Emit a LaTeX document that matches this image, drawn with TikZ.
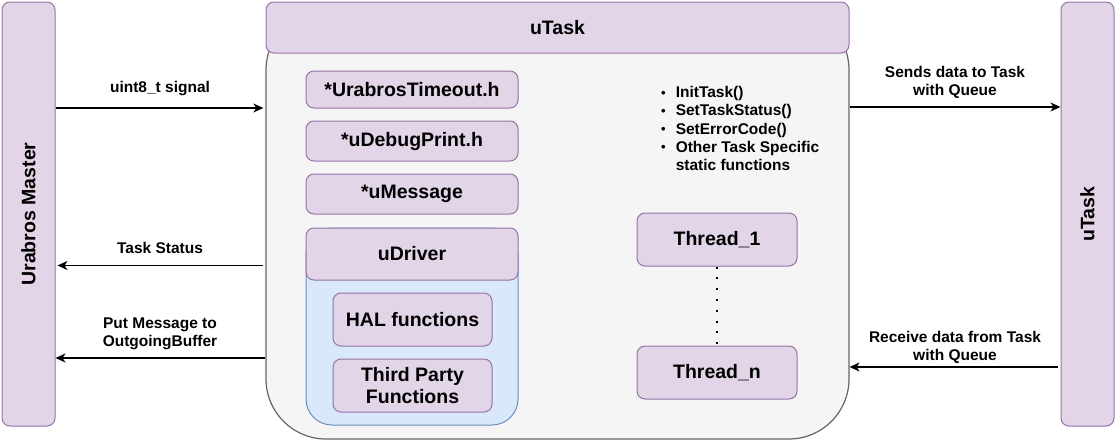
\documentclass[tikz,border=0pt]{standalone}
\usepackage{fontspec}
\setmainfont{Liberation Sans}
\usetikzlibrary{arrows.meta}
\definecolor{pfill}{HTML}{E1D5E7}
\definecolor{pdraw}{HTML}{9673A6}
\definecolor{gfill}{HTML}{F5F5F5}
\definecolor{gdraw}{HTML}{666666}
\definecolor{bfill}{HTML}{DAE8FC}
\definecolor{bdraw}{HTML}{6C8EBF}
\begin{document}
\begin{tikzpicture}[x=1pt,y=-1pt,
  pbox/.style={draw=pdraw, fill=pfill, line width=1pt, rounded corners=8pt, inner sep=0pt,
    font=\fontsize{19.5}{22}\selectfont\bfseries, align=center},
  lbl/.style={font=\fontsize{15.5}{18}\selectfont\bfseries, align=center, inner sep=0pt},
  arr/.style={-{Stealth[length=10pt,width=9pt,inset=3pt]}, line width=1.2pt, black}]
\useasboundingbox (0,0) rectangle (1120,445);

% side bars
\node[pbox, minimum width=53pt, minimum height=424pt] (master) at (28.5,214) {};
\node[font=\fontsize{19.5}{22}\selectfont\bfseries, rotate=90] (masterlbl) at (master.center) {Urabros Master};
\node[pbox, minimum width=53pt, minimum height=424pt] (rtask) at (1087.5,214) {};
\node[font=\fontsize{19.5}{22}\selectfont\bfseries, rotate=90] (rtasklbl) at (rtask.center) {uTask};

% main body
\node[draw=gdraw, fill=gfill, line width=1.2pt, rounded corners=60pt, minimum width=583pt, minimum height=429pt] (body) at (557.5,224.5) {};
\node[pbox, minimum width=583pt, minimum height=51pt] (header) at (557.5,27.5) {uTask};

% left column
\node[pbox, minimum width=212pt, minimum height=37pt] (ut) at (412,89.5) {*UrabrosTimeout.h};
\node[pbox, minimum width=212pt, minimum height=40pt] (dp) at (412,141) {*uDebugPrint.h};
\node[pbox, minimum width=212pt, minimum height=40pt] (um) at (412,194) {*uMessage};
\node[draw=bdraw, fill=bfill, line width=1pt, rounded corners=26pt, minimum width=212pt, minimum height=197pt] (drv) at (412,326.5) {};
\node[pbox, minimum width=212pt, minimum height=52pt] (drvh) at (412,254) {uDriver};
\node[pbox, minimum width=159pt, minimum height=53pt] (hal) at (412.5,319.5) {HAL functions};
\node[pbox, minimum width=159pt, minimum height=53pt, font=\fontsize{19.5}{21.5}\selectfont\bfseries] (tp) at (412.5,385.5) {Third Party\\Functions};

% threads
\node[pbox, minimum width=160pt, minimum height=53pt] (t1) at (717,239.5) {Thread\_1};
\node[pbox, minimum width=160pt, minimum height=53pt] (tn) at (717,372.5) {Thread\_n};
\draw[line width=2pt, dash pattern=on 2pt off 8.8pt, black] (t1.south) -- (tn.north);

% bullet list
\node[anchor=base west, inner sep=0pt, font=\fontsize{15.5}{18.3}\selectfont\bfseries] (funcs) at (661,97.5)
  {\begin{tabular}[t]{@{}c@{\hspace{10pt}}l@{}}
   \raisebox{0.5pt}{\fontsize{13}{13}\selectfont\textbullet} & InitTask()\\
   \raisebox{0.5pt}{\fontsize{13}{13}\selectfont\textbullet} & SetTaskStatus()\\
   \raisebox{0.5pt}{\fontsize{13}{13}\selectfont\textbullet} & SetErrorCode()\\
   \raisebox{0.5pt}{\fontsize{13}{13}\selectfont\textbullet} & Other Task Specific\\
   & static functions
   \end{tabular}};

% connector levels
\coordinate (ya) at (0,108);
\coordinate (yb) at (0,265.5);
\coordinate (yc) at (0,358);
\coordinate (yd) at (0,107);
\coordinate (ye) at (0,367);

\draw[arr, shorten >=2pt] (master.east |- ya) -- (body.west |- ya);
\draw[arr, shorten >=2pt, shorten <=2pt] (body.west |- yb) -- (master.east |- yb);
\draw[arr] (body.west |- yc) -- (master.east |- yc);
\draw[arr] (body.east |- yd) -- (rtask.west |- yd);
\draw[arr, shorten <=3pt] (rtask.west |- ye) -- (body.east |- ye);

% labels
\node[lbl] (l1) at (160,89) {uint8\_t signal};
\node[lbl] (l2) at (160,248) {Task Status};
\node[lbl] (l3) at (160,333.5) {Put Message to\\OutgoingBuffer};
\node[lbl] (r1) at (955,82) {Sends data to Task\\with Queue};
\node[lbl] (r2) at (955,347) {Receive data from Task\\with Queue};
\end{tikzpicture}
\end{document}
